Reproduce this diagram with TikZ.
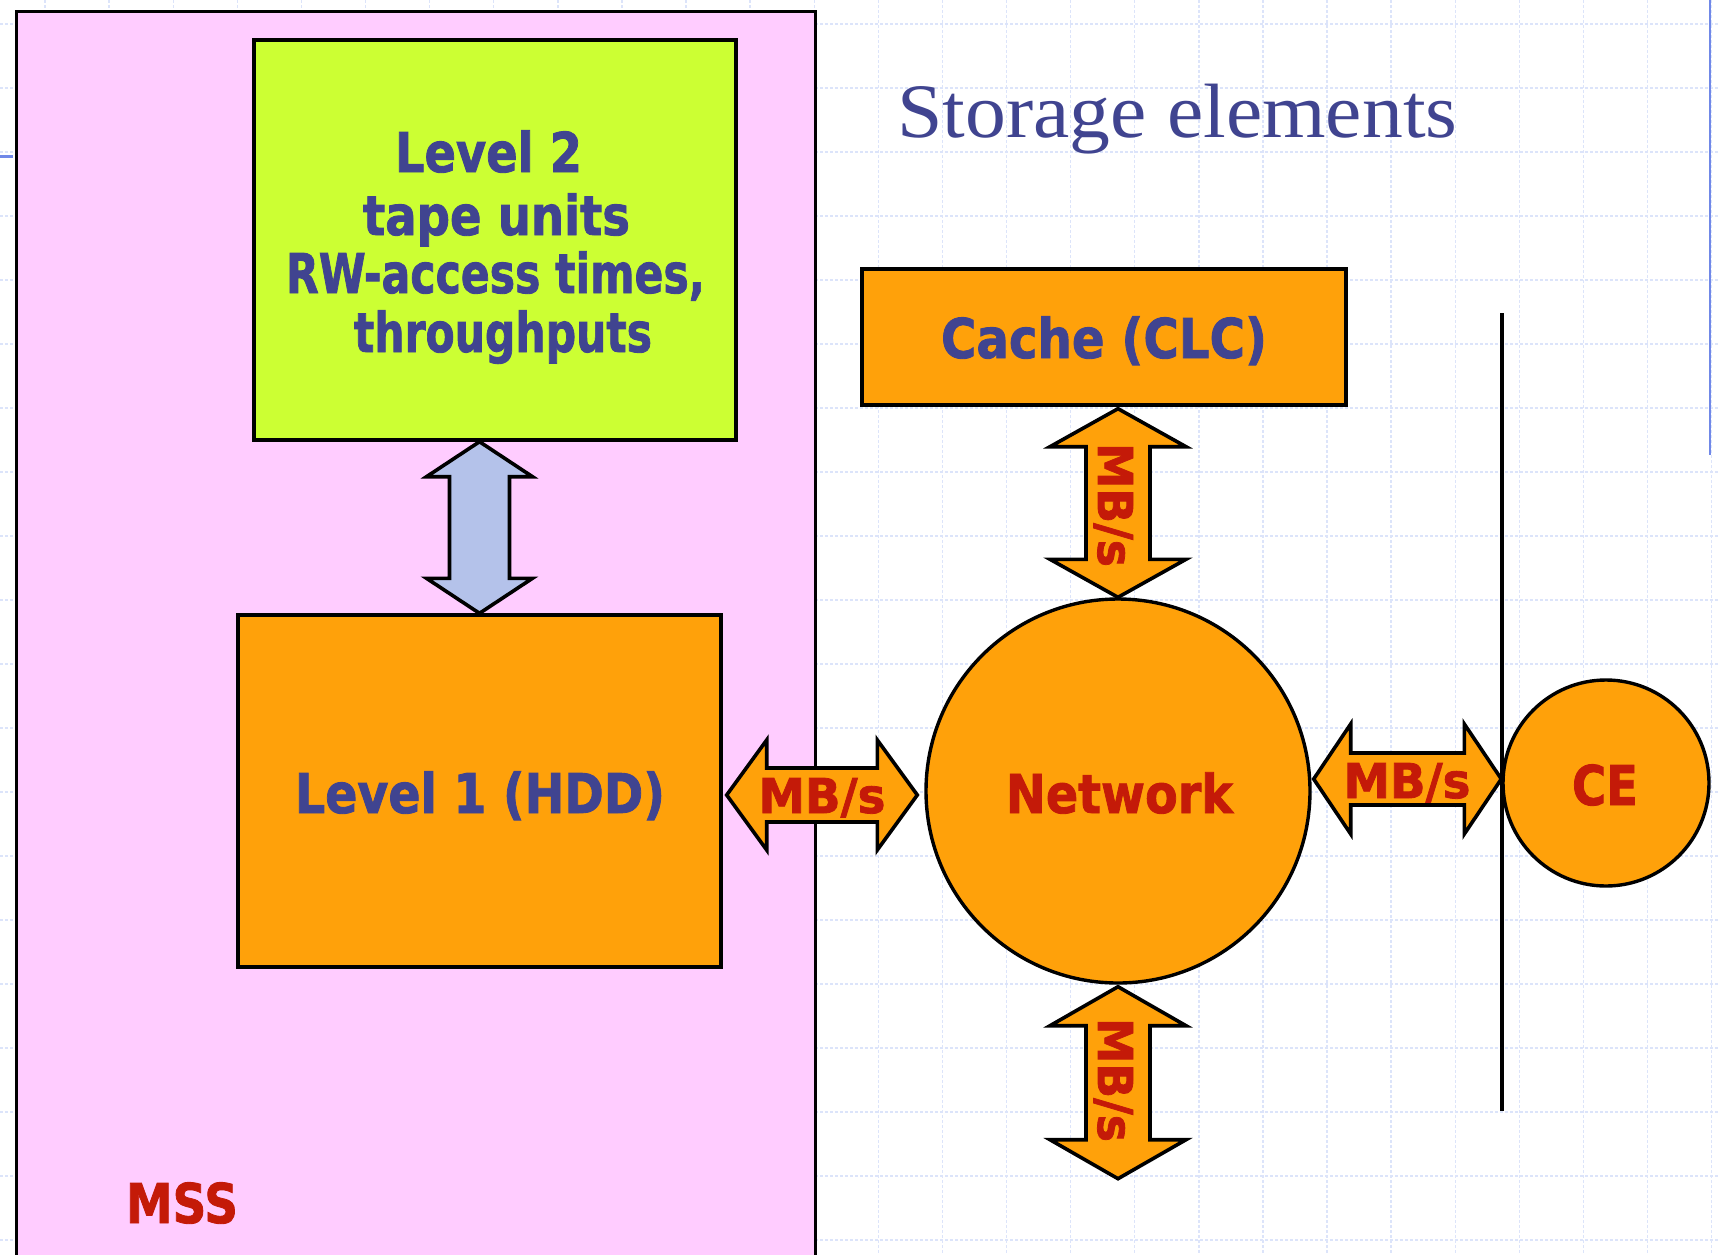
\documentclass[tikz,border=0pt]{standalone}
\usepackage{fontspec}
\usepackage{graphicx}
\usetikzlibrary{calc}
\setmainfont{DejaVu Sans}
\newfontfamily\heavy{DejaVu Sans Bold}[FakeBold=1.6]
\newfontfamily\titlefont{Liberation Serif}
\definecolor{pinkbg}{HTML}{FFCCFF}
\definecolor{limebg}{HTML}{CCFF33}
\definecolor{orangebg}{HTML}{FFA10A}
\definecolor{navytxt}{HTML}{404490}
\definecolor{redtxt}{HTML}{C41A08}
\definecolor{bluearrow}{HTML}{B4C2EA}
\definecolor{gridcol}{HTML}{DCE4FA}
\definecolor{slideblue}{HTML}{7088E8}
\newcommand\fitw[2]{\resizebox{#1}{\height}{#2}}
% #1 style, #2 left tip, #3 right tip, #4 head length, #5 shaft half, #6 head half
\newcommand\hblockarrow[6]{%
  \draw[#1] (#2) -- ++(#4,-#6) -- ++(0,#6-#5) -- ($(#3)+(-#4,-#5)$) -- ++(0,#5-#6)
    -- (#3) -- ++(-#4,#6) -- ++(0,#5-#6) -- ($(#2)+(#4,#5)$) -- ++(0,#6-#5) -- cycle;}
% #1 style, #2 top tip, #3 bottom tip, #4 head length, #5 shaft half, #6 head half
\newcommand\vblockarrow[6]{%
  \draw[#1] (#2) -- ++(#6,#4) -- ++(#5-#6,0) -- ($(#3)+(#5,-#4)$) -- ++(#6-#5,0)
    -- (#3) -- ++(-#6,-#4) -- ++(#6-#5,0) -- ($(#2)+(-#5,#4)$) -- ++(#5-#6,0) -- cycle;}
\begin{document}
\begin{tikzpicture}[x=0.5pt,y=-0.5pt,
  box/.style={draw=black, line width=1.7pt, inner sep=0pt, rectangle},
  disc/.style={draw=black, line width=1.7pt, inner sep=0pt, circle, fill=orangebg},
  gridline/.style={draw=gridcol, line width=0.7pt, dash pattern=on 1.5pt off 1pt},
  navylbl/.style={inner sep=0pt, anchor=base, text=navytxt, font=\heavy\fontsize{27.4}{30}\selectfont},
  redlbl/.style={inner sep=0pt, anchor=base, text=redtxt, font=\heavy\fontsize{27.4}{30}\selectfont},
  mbs/.style={inner sep=0pt, anchor=base, text=redtxt, font=\heavy\fontsize{24}{28}\selectfont},
  orangearrow/.style={draw=black, line width=1.8pt, fill=orangebg, line join=miter},
  bluearrowstyle/.style={draw=black, line width=1.8pt, fill=bluearrow, line join=miter}]
\useasboundingbox (0,0) rectangle (1720,1254);
\clip (0,0) rectangle (1720,1254);
\fill[white] (0,0) rectangle (1720,1254);
% background grid
\foreach \i in {0,...,26} \draw[gridline] (45+64.1*\i,0) -- (45+64.1*\i,1254);
\foreach \j in {0,...,19} \draw[gridline] (0,24+64*\j) -- (1720,24+64*\j);
\draw[slideblue, line width=1pt] (1710,0) -- (1710,455);
\draw[slideblue, line width=1.5pt] (0,156) -- (13,156);
% MSS container
\node[box, fill=pinkbg, minimum width=399.5pt, minimum height=640pt, anchor=north west] (mss) at (14.5,9.5) {};
% boxes
\node[box, fill=limebg, minimum width=241pt, minimum height=200pt] (l2) at (495,240) {};
\node[box, fill=orangebg, minimum width=241.5pt, minimum height=176pt] (l1) at (479.5,791) {};
\node[box, fill=orangebg, minimum width=242pt, minimum height=68pt] (cache) at (1104,337) {};
\node[disc, minimum size=192pt] (net) at (1118,791) {};
\node[disc, minimum size=103pt] (ce) at (1606,783) {};
% connector coordinates
\coordinate (bt) at (l1.north |- l2.south);
\coordinate (bb) at (l1.north);
\coordinate (ct) at ($(net.north |- cache.south)+(0,2)$);
\coordinate (cb) at (net.north);
\coordinate (nt) at ($(net.south)+(0,2)$);
\coordinate (nb) at ($(net.south)+(0,194)$);
\coordinate (hl) at ($(l1.east)+(4,4)$);
\coordinate (hr) at ($(net.west)+(-7,4)$);
\coordinate (el) at ($(net.east)+(2,-12)$);
\coordinate (er) at (ce.west |- el);
% block arrows
\vblockarrow{bluearrowstyle}{bt}{bb}{35}{30}{53}
\vblockarrow{orangearrow}{ct}{cb}{38}{32}{68}
\vblockarrow{orangearrow}{nt}{nb}{39}{32}{68}
\hblockarrow{orangearrow}{hl}{hr}{40}{27}{55}
\hblockarrow{orangearrow}{el}{er}{37}{26}{55}
% separator line
\coordinate (sept) at (1502,313);
\coordinate (sepb) at (1502,1111);
\draw[line width=1.6pt] (sept) -- (sepb);
% texts
\node[inner sep=0pt, anchor=base west, text=navytxt, font=\titlefont\fontsize{38.5}{40}\selectfont] (title) at (897,137) {\fitw{280pt}{Storage elements}};
\node[navylbl] (l2a) at (488.5,172) {\fitw{93.5pt}{Level 2}};
\node[navylbl] (l2b) at (496.5,235) {\fitw{133.5pt}{tape units}};
\node[navylbl] (l2c) at (495.5,293) {\fitw{209.5pt}{RW-access times,}};
\node[navylbl] (l2d) at (503,352) {\fitw{149pt}{throughputs}};
\node[navylbl] (l1t) at (480,813) {\fitw{185pt}{Level 1 (HDD)}};
\node[navylbl] (cachet) at (1104,358) {\fitw{163pt}{Cache (CLC)}};
\node[redlbl, font=\heavy\fontsize{26.8}{30}\selectfont] (nett) at (1119.5,813) {\fitw{113.5pt}{Network}};
\node[redlbl] (cet) at (1605,805) {\fitw{33pt}{CE}};
\node[redlbl] (msst) at (182,1223) {\fitw{56pt}{MSS}};
\node[mbs] (m1) at (822,813) {\fitw{63.5pt}{MB/s}};
\node[mbs] (m2) at (1407,798) {\fitw{63.5pt}{MB/s}};
\node[mbs, rotate=-90] (m3) at (1098,505) {\fitw{62pt}{MB/s}};
\node[mbs, rotate=-90] (m4) at (1098,1080) {\fitw{62pt}{MB/s}};
\end{tikzpicture}
\end{document}
